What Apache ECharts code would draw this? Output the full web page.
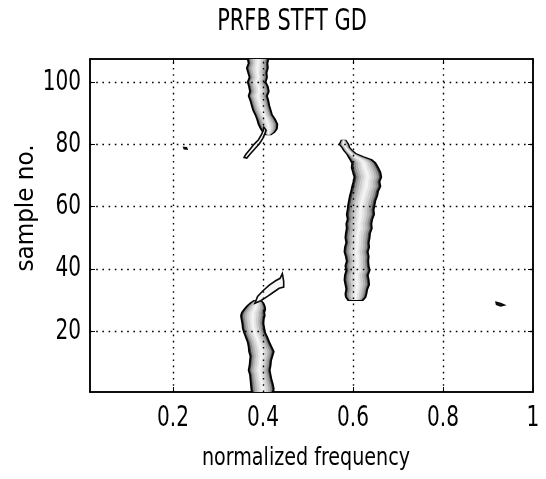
<!DOCTYPE html>
<html>
<head>
<meta charset="utf-8">
<script src="https://cdn.jsdelivr.net/npm/echarts@6/dist/echarts.min.js"></script>
<style>
  html, body { margin: 0; padding: 0; background: #fff; }
  #chart { width: 546px; height: 479px; }
</style>
</head>
<body>
<div id="chart"></div>
<script>
// Axis ranges and tick labels
const xRange = [0.0156, 1];
const yRange = [0.5, 107.4];
const xTicks = [0.2, 0.4, 0.6, 0.8, 1];
const yTicks = [20, 40, 60, 80, 100];
const xGrid = [0.2, 0.4, 0.6, 0.8];
const yGrid = [20, 40, 60, 80, 100];

// Ridge bands: [sample no., lower frequency edge, upper frequency edge]
const ridgeUpper = [
  [107.4, 0.366, 0.412], [106, 0.368, 0.410], [104.5, 0.364, 0.411],
  [103, 0.367, 0.408], [101.5, 0.370, 0.409], [100, 0.366, 0.406],
  [98.5, 0.369, 0.411], [97, 0.371, 0.413], [95.5, 0.368, 0.409],
  [94, 0.372, 0.412], [92.5, 0.375, 0.414], [91, 0.378, 0.417],
  [89.5, 0.383, 0.420], [88, 0.387, 0.427], [86.5, 0.390, 0.432],
  [85, 0.395, 0.431], [84, 0.400, 0.426], [83.2, 0.406, 0.418]
];
const ridgeMiddle = [
  [81.2, 0.574, 0.584], [80, 0.570, 0.590], [79, 0.576, 0.592],
  [78, 0.580, 0.598], [77, 0.586, 0.606], [76, 0.590, 0.622],
  [75, 0.594, 0.642], [74, 0.598, 0.650], [72.5, 0.597, 0.656],
  [71, 0.600, 0.661], [69.5, 0.603, 0.663], [68, 0.601, 0.659],
  [66.5, 0.598, 0.661], [65, 0.596, 0.656], [63.5, 0.593, 0.654],
  [62, 0.591, 0.650], [60.5, 0.589, 0.648], [59, 0.588, 0.646],
  [57.5, 0.586, 0.647], [56, 0.588, 0.643], [54.5, 0.585, 0.641],
  [53, 0.586, 0.642], [51.5, 0.584, 0.638], [50, 0.583, 0.637],
  [48.5, 0.585, 0.635], [47, 0.582, 0.636], [45.5, 0.581, 0.633],
  [44, 0.584, 0.635], [42.5, 0.586, 0.634], [41, 0.583, 0.635],
  [39.5, 0.585, 0.637], [38, 0.582, 0.633], [36.5, 0.581, 0.635],
  [35, 0.583, 0.636], [33.5, 0.585, 0.632], [32, 0.583, 0.630],
  [31, 0.584, 0.628], [30, 0.589, 0.622]
];
const ridgeLower = [
  [29.8, 0.380, 0.396], [29, 0.372, 0.401], [28, 0.364, 0.404],
  [27, 0.358, 0.405], [26, 0.353, 0.403], [25, 0.351, 0.404],
  [24, 0.352, 0.402], [22.5, 0.354, 0.401], [21, 0.355, 0.403],
  [19.5, 0.358, 0.405], [18, 0.362, 0.410], [16.5, 0.366, 0.414],
  [15, 0.368, 0.419], [13.5, 0.369, 0.424], [12, 0.372, 0.421],
  [10.5, 0.371, 0.418], [9, 0.370, 0.417], [7.5, 0.368, 0.415],
  [6, 0.371, 0.417], [4.5, 0.372, 0.419], [3, 0.373, 0.422],
  [1.5, 0.374, 0.424], [0.5, 0.375, 0.423]
];

// Thin closed contours: [frequency, sample no.]
const loopUpper = [
  [0.402, 85.5], [0.398, 83.5], [0.390, 81.5], [0.380, 80.0], [0.370, 78.2],
  [0.362, 76.8], [0.358, 75.8], [0.364, 75.6], [0.372, 77.0], [0.382, 78.6],
  [0.392, 80.2], [0.400, 82.0], [0.407, 84.5]
];
const loopLower = [
  [0.382, 29.0], [0.395, 29.8], [0.410, 31.2], [0.424, 32.6], [0.436, 33.8],
  [0.446, 34.2], [0.446, 36.0], [0.443, 38.5], [0.438, 37.0], [0.428, 36.2],
  [0.414, 34.8], [0.400, 33.0], [0.388, 31.2]
];
const spotLeft = [
  [0.224, 79.0], [0.230, 78.9], [0.231, 78.5], [0.225, 78.6]
];
const spotRight = [
  [0.918, 29.3], [0.928, 28.9], [0.936, 28.4], [0.928, 28.1], [0.919, 28.6]
];

const fontFamily = "'DejaVu Sans Condensed', 'DejaVu Sans', sans-serif";

// Nested shading levels inside each ridge band (fraction of half-width, fill)
const shadeLevels = [
  { k: 1.0, fill: '#3a3a3a' },
  { k: 0.84, fill: '#8e8e8e' },
  { k: 0.68, fill: '#b2b2b2' },
  { k: 0.5, fill: '#cfcfcf' },
  { k: 0.3, fill: '#e4e4e4' },
  { k: 0.12, fill: '#f3f3f3' }
];

function bandPolygon(api, rows, k) {
  const left = [], right = [];
  rows.forEach(function (r) {
    const c = (r[1] + r[2]) / 2, h = (r[2] - r[1]) / 2 * k;
    left.push(api.coord([c - h, r[0]]));
    right.push(api.coord([c + h, r[0]]));
  });
  return left.concat(right.reverse());
}

function bandSeries(rows) {
  return {
    type: 'custom',
    coordinateSystem: 'cartesian2d',
    clip: true,
    silent: true,
    data: [[rows[0][1], rows[0][0]]],
    renderItem: function (params, api) {
      const children = shadeLevels.map(function (lv, i) {
        return {
          type: 'polygon',
          shape: { points: bandPolygon(api, rows, lv.k) },
          style: i === 0
            ? { fill: lv.fill, stroke: '#000', lineWidth: 1.7 }
            : { fill: lv.fill }
        };
      });
      return { type: 'group', children: children };
    }
  };
}

function loopSeries(pts, fill) {
  return {
    type: 'custom',
    coordinateSystem: 'cartesian2d',
    clip: true,
    silent: true,
    data: [pts[0]],
    renderItem: function (params, api) {
      return {
        type: 'polygon',
        shape: { points: pts.map(function (p) { return api.coord(p); }) },
        style: { fill: fill, stroke: '#0a0a0a', lineWidth: 1.6 }
      };
    }
  };
}

function axisSide(pos, range, ticks) {
  return {
    type: 'value', min: range[0], max: range[1], position: pos,
    axisLine: { show: true, lineStyle: { color: '#000', width: 1.5 } },
    axisTick: { show: true, inside: true, length: 5, customValues: ticks, lineStyle: { color: '#000' } },
    axisLabel: { show: false },
    splitLine: { show: false }
  };
}

const chart = echarts.init(document.getElementById('chart'), null, { renderer: 'canvas' });

chart.setOption({
  animation: false,
  backgroundColor: '#fff',
  grid: {
    left: 90, right: 13, top: 59, bottom: 87,
    show: true, borderColor: '#000', borderWidth: 1.5, backgroundColor: '#fff'
  },
  xAxis: [
    axisSide('bottom', xRange, xTicks),
    axisSide('top', xRange, xTicks)
  ],
  yAxis: [
    axisSide('left', yRange, yTicks),
    axisSide('right', yRange, yTicks)
  ],
  series: [
    bandSeries(ridgeUpper),
    bandSeries(ridgeMiddle),
    bandSeries(ridgeLower),
    loopSeries(loopUpper, '#f6f6f6'),
    loopSeries(loopLower, '#f6f6f6'),
    loopSeries(spotLeft, '#222'),
    loopSeries(spotRight, '#222'),
    {
      // dotted grid lines
      type: 'line', data: [], silent: true, z: 5,
      markLine: {
        silent: true, symbol: 'none', animation: false,
        label: { show: false },
        lineStyle: { color: '#000', width: 1.4, type: [1.6, 4.6] },
        emphasis: { disabled: true },
        data: xGrid.map(function (v) { return { xAxis: v }; })
          .concat(yGrid.map(function (v) { return { yAxis: v }; }))
      }
    }
  ]
});

// Narrow, tall lettering for the title, axis names and tick labels,
// placed at the pixel positions the axes give for each tick value.
function label(text, x, y, size, sx, align, rotation) {
  return {
    type: 'text', x: x, y: y, scaleX: sx, rotation: rotation || 0, silent: true,
    style: {
      text: text, textAlign: align || 'center', textVerticalAlign: 'middle',
      fontFamily: fontFamily, fontSize: size, fill: '#000'
    }
  };
}

const xLabelY = chart.convertToPixel({ yAxisIndex: 0 }, yRange[0]) + 26;
const yLabelX = chart.convertToPixel({ xAxisIndex: 0 }, xRange[0]) - 9;

const texts = [
  label('PRFB STFT GD', 292, 22, 31, 0.75),
  label('normalized frequency', 306, 458, 25, 0.85),
  label('sample no.', 27, 208, 24, 1.07, 'center', Math.PI / 2)
];
xTicks.forEach(function (v) {
  texts.push(label(String(v), chart.convertToPixel({ xAxisIndex: 0 }, v), xLabelY, 29, 0.77));
});
yTicks.forEach(function (v) {
  texts.push(label(String(v), yLabelX, chart.convertToPixel({ yAxisIndex: 0 }, v), 29, 0.77, 'right'));
});

chart.setOption({ graphic: texts });
</script>
</body>
</html>
